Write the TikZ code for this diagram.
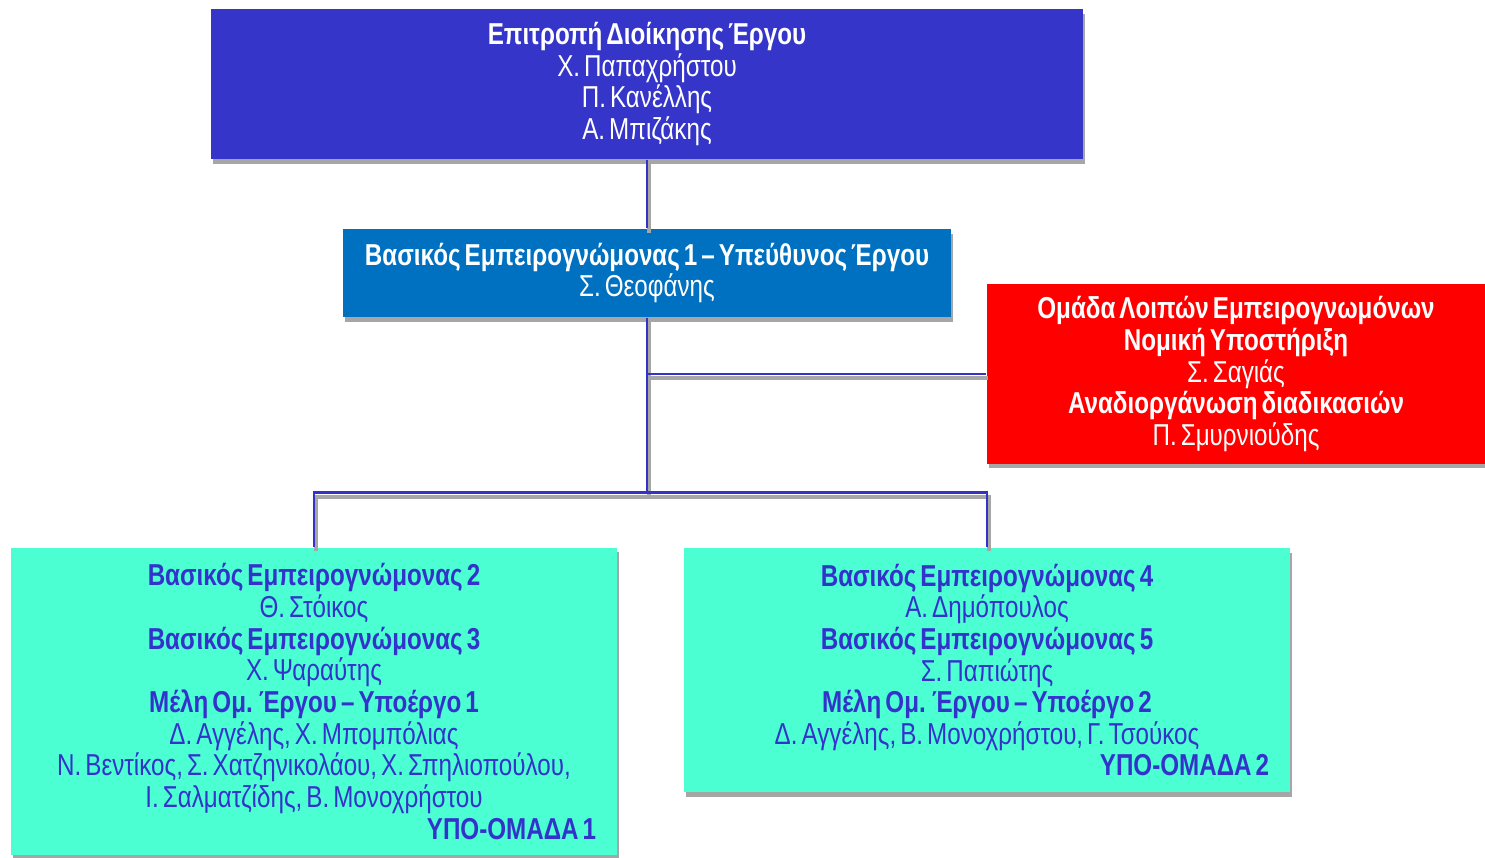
\documentclass[tikz,border=0pt]{standalone}
\usepackage{fontspec}
\setmainfont{Liberation Sans}[FakeStretch=0.8, WordSpace=0.6]
\usepackage{xcolor}
\usepackage{tikz}
\usetikzlibrary{calc,shadows}
\definecolor{board}{HTML}{3535CA}
\definecolor{lead}{HTML}{0070C0}
\definecolor{others}{HTML}{FF0000}
\definecolor{team}{HTML}{4BFFD2}
\definecolor{ink}{HTML}{3333CC}
\definecolor{shade}{HTML}{A6A6A6}
\tikzset{
  box/.style={rectangle, inner sep=0pt, align=center, text=white,
    font=\fontsize{8.6}{9}\selectfont,
    drop shadow={shadow xshift=0.5pt, shadow yshift=-1.3pt, fill=shade, opacity=1}},
  teambox/.style={box, fill=team, text=ink, text width=5.64cm, align=flush center},
  wire/.style={draw=ink, line width=0.8pt,
    preaction={draw=shade, line width=1.2pt, transform canvas={shift={(0.6pt,-1.2pt)}}}},
}

\begin{document}
\begin{tikzpicture}[x=0.01cm, y=-0.01cm]
  \useasboundingbox (0,0) rectangle (1485,857);

  % boxes
  \node[box, fill=board, minimum width=8.72cm, minimum height=1.5cm] (board) at (647,84)
    {\textbf{Επιτροπή Διοίκησης Έργου}\\Χ. Παπαχρήστου\\Π. Κανέλλης\\Α. Μπιζάκης};
  \node[box, fill=lead, minimum width=6.08cm, minimum height=0.88cm] (lead) at (647,273)
    {\textbf{Βασικός Εμπειρογνώμονας 1 – Υπεύθυνος Έργου}\\Σ. Θεοφάνης};
  \node[box, fill=others, minimum width=4.98cm, minimum height=1.79cm] (others) at (1236,374)
    {\textbf{Ομάδα Λοιπών Εμπειρογνωμόνων}\\\textbf{Νομική Υποστήριξη}\\Σ. Σαγιάς\\
     \textbf{Αναδιοργάνωση διαδικασιών}\\Π. Σμυρνιούδης};
  \node[teambox, minimum width=6.06cm, minimum height=3.07cm] (sub1) at (314,701.5)
    {\textbf{Βασικός Εμπειρογνώμονας 2}\\Θ. Στόικος\\\textbf{Βασικός Εμπειρογνώμονας 3}\\
     Χ. Ψαραύτης\\\textbf{Μέλη Ομ. Έργου – Υποέργο 1}\\Δ. Αγγέλης, Χ. Μπομπόλιας\\
     Ν. Βεντίκος, Σ. Χατζηνικολάου, Χ. Σπηλιοπούλου,\\Ι. Σαλματζίδης, Β. Μονοχρήστου\\
     \hspace*{\fill}\textbf{ΥΠΟ-ΟΜΑΔΑ 1}};
  \node[teambox, minimum width=6.06cm, minimum height=2.44cm] (sub2) at (987,670)
    {\textbf{Βασικός Εμπειρογνώμονας 4}\\Α. Δημόπουλος\\\textbf{Βασικός Εμπειρογνώμονας 5}\\
     Σ. Παπιώτης\\\textbf{Μέλη Ομ. Έργου – Υποέργο 2}\\Δ. Αγγέλης, Β. Μονοχρήστου, Γ. Τσούκος\\
     \hspace*{\fill}\textbf{ΥΠΟ-ΟΜΑΔΑ 2}};

  % connectors
  \coordinate (split) at ($(lead.south)+(0,175)$);
  \draw[wire] (board.south) -- (lead.north);
  \draw[wire] (lead.south) -- (split);
  \draw[wire] (lead.south |- others.west) -- (others.west);
  \draw[wire] (sub1.north) |- (split) -| (sub2.north);
\end{tikzpicture}
\end{document}
